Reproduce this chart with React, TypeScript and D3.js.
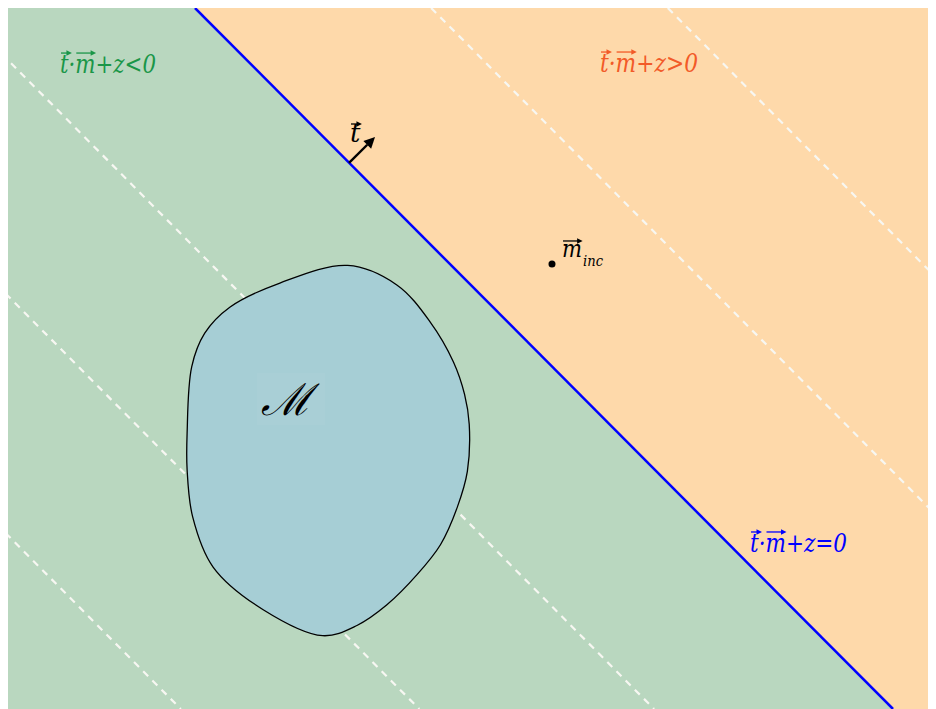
import * as d3 from 'd3'
import { useEffect, useRef } from 'react'

const W = 928
const H = 701

// diagram space: x 0..10, y 0..7.554 (y up)
const X_MAX = 10
const Y_MAX = 7.554

// decision boundary t·m+z=0, where it meets the top and bottom edges
const boundaryX = [2.015, 9.537]
const boundaryY = [Y_MAX, 0]

// dashed level sets t·m+z=c, x where each crosses the top edge
const levelTopX = [-5.66, -3.09, -0.56, 4.56, 7.11]

// outline of the set M
const blobX = [3.66, 4.19, 4.55, 4.80, 4.92, 4.97, 4.95, 4.84, 4.66, 4.41, 4.08, 3.76, 3.39, 2.75, 2.21, 1.99, 1.93, 1.93, 1.98, 2.12, 2.39, 2.93]
const blobY = [4.78, 4.57, 4.17, 3.74, 3.39, 3.07, 2.56, 2.17, 1.77, 1.45, 1.12, 0.90, 0.79, 1.07, 1.53, 2.07, 2.58, 2.97, 3.69, 4.05, 4.33, 4.59]

// normal vector t, anchored on the boundary
const normalFrom = [3.675, 5.884]
const normalTo = [3.955, 6.164]

// the point m_inc
const mInc = [5.862, 4.795]

const GREEN = '#b9d7bf'
const ORANGE = '#fed9aa'
const BLOB = '#a6ced5'
const SERIF = 'DejaVu Serif'

export default function App() {
  const svgRef = useRef<SVGSVGElement | null>(null)

  useEffect(() => {
    if (!svgRef.current) return
    const svg = d3.select(svgRef.current)
    svg.selectAll('*').remove()

    const x = d3.scaleLinear().domain([0, X_MAX]).range([0, W])
    const y = d3.scaleLinear().domain([0, Y_MAX]).range([H, 0])

    // regions
    svg.append('rect').attr('width', W).attr('height', H).attr('fill', GREEN)
    const orange: [number, number][] = [
      [boundaryX[0], boundaryY[0]],
      [X_MAX, Y_MAX],
      [X_MAX, 0],
      [boundaryX[1], boundaryY[1]],
    ]
    svg.append('path')
      .attr('d', d3.line<[number, number]>().x(d => x(d[0])).y(d => y(d[1]))(orange) + 'Z')
      .attr('fill', ORANGE)

    // level sets
    const dx = boundaryX[1] - boundaryX[0]
    for (const x0 of levelTopX) {
      svg.append('line')
        .attr('x1', x(x0)).attr('y1', y(Y_MAX))
        .attr('x2', x(x0 + dx)).attr('y2', y(0))
        .attr('stroke', '#f7f7f2').attr('stroke-width', 2.2)
        .attr('stroke-dasharray', '7 6')
    }

    // set M
    const pts = blobX.map((v, i) => [v, blobY[i]] as [number, number])
    svg.append('path')
      .attr('d', d3.line<[number, number]>().x(d => x(d[0])).y(d => y(d[1])).curve(d3.curveCatmullRomClosed.alpha(0.5))(pts))
      .attr('fill', BLOB).attr('stroke', '#000').attr('stroke-width', 1.3)

    // boundary
    svg.append('line')
      .attr('x1', x(boundaryX[0])).attr('y1', y(boundaryY[0]))
      .attr('x2', x(boundaryX[1])).attr('y2', y(boundaryY[1]))
      .attr('stroke', '#0000ff').attr('stroke-width', 2.5)

    // normal arrow
    const ax0 = x(normalFrom[0]), ay0 = y(normalFrom[1])
    const ax1 = x(normalTo[0]), ay1 = y(normalTo[1])
    const ang = Math.atan2(ay1 - ay0, ax1 - ax0)
    const hl = 11, hw = 5.5
    const bx = ax1 - hl * Math.cos(ang), by = ay1 - hl * Math.sin(ang)
    svg.append('line').attr('x1', ax0).attr('y1', ay0).attr('x2', bx).attr('y2', by)
      .attr('stroke', '#000').attr('stroke-width', 2.4)
    svg.append('path')
      .attr('d', `M${ax1},${ay1}L${bx - hw * Math.sin(ang)},${by + hw * Math.cos(ang)}L${bx + hw * Math.sin(ang)},${by - hw * Math.cos(ang)}Z`)
      .attr('fill', '#000')

    // m_inc point
    svg.append('circle').attr('cx', x(mInc[0])).attr('cy', y(mInc[1])).attr('r', 3.5).attr('fill', '#000')

    const vecArrow = (node: SVGTextElement, idx: number, baseline: number, rise: number, color: string) => {
      const e = node.getExtentOfChar(idx)
      const len = Math.max(e.width * 0.98, 11)
      const x0 = e.x + 1
      const x1 = x0 + len
      const yy = baseline - rise
      svg.append('line').attr('x1', x0).attr('y1', yy).attr('x2', x1 - 3).attr('y2', yy)
        .attr('stroke', color).attr('stroke-width', 1.3)
      svg.append('path').attr('d', `M${x1},${yy}L${x1 - 5.5},${yy - 2.7}L${x1 - 5.5},${yy + 2.7}Z`).attr('fill', color)
    }

    const italic = (px: number, py: number, size: number, color: string) =>
      svg.append('text').attr('x', px).attr('y', py)
        .attr('font-family', SERIF).attr('font-style', 'italic')
        .attr('font-size', size).attr('fill', color)

    const eqLabel = (tx: number, ty: number, text: string, color: string, width: number) => {
      const px = x(tx), py = y(ty)
      const t = italic(px, py, 26, color)
        .attr('textLength', width).attr('lengthAdjust', 'spacingAndGlyphs')
        .text(text)
      const node = t.node() as SVGTextElement
      vecArrow(node, 0, py, 20, color)
      vecArrow(node, 2, py, 20, color)
    }

    eqLabel(0.56, 6.853, 't·m+z<0', '#1a9648', 96)
    eqLabel(6.379, 6.864, 't·m+z>0', '#f25a28', 98)
    eqLabel(7.996, 1.692, 't·m+z=0', '#0000ff', 97)

    // t label next to the normal
    {
      const px = x(3.685), py = y(6.11)
      const t = italic(px, py, 26, '#000').text('t')
      vecArrow(t.node() as SVGTextElement, 0, py, 18, '#000')
    }

    // m_inc label
    {
      const px = x(5.97), py = y(4.871)
      const t = italic(px, py, 25, '#000')
        .attr('textLength', 20).attr('lengthAdjust', 'spacingAndGlyphs').text('m')
      vecArrow(t.node() as SVGTextElement, 0, py, 16, '#000')
      italic(px + 21, py + 9, 15, '#000')
        .attr('textLength', 20).attr('lengthAdjust', 'spacingAndGlyphs').text('inc')
    }

    // M label
    {
      const px = x(2.748), py = y(3.168)
      svg.append('rect').attr('x', px - 6).attr('y', py - 42).attr('width', 68).attr('height', 52)
        .attr('fill', '#ffffff').attr('opacity', 0.04)
      svg.append('text').attr('x', px - 2).attr('y', py)
        .attr('font-family', SERIF).attr('font-style', 'italic').attr('font-size', 44)
        .attr('fill', '#000').text('ℳ')
    }
  }, [])

  return (
    <>
      <style>{'body{overflow:hidden}'}</style>
      <svg ref={svgRef} width={W} height={H} style={{ display: 'block' }} />
    </>
  )
}
